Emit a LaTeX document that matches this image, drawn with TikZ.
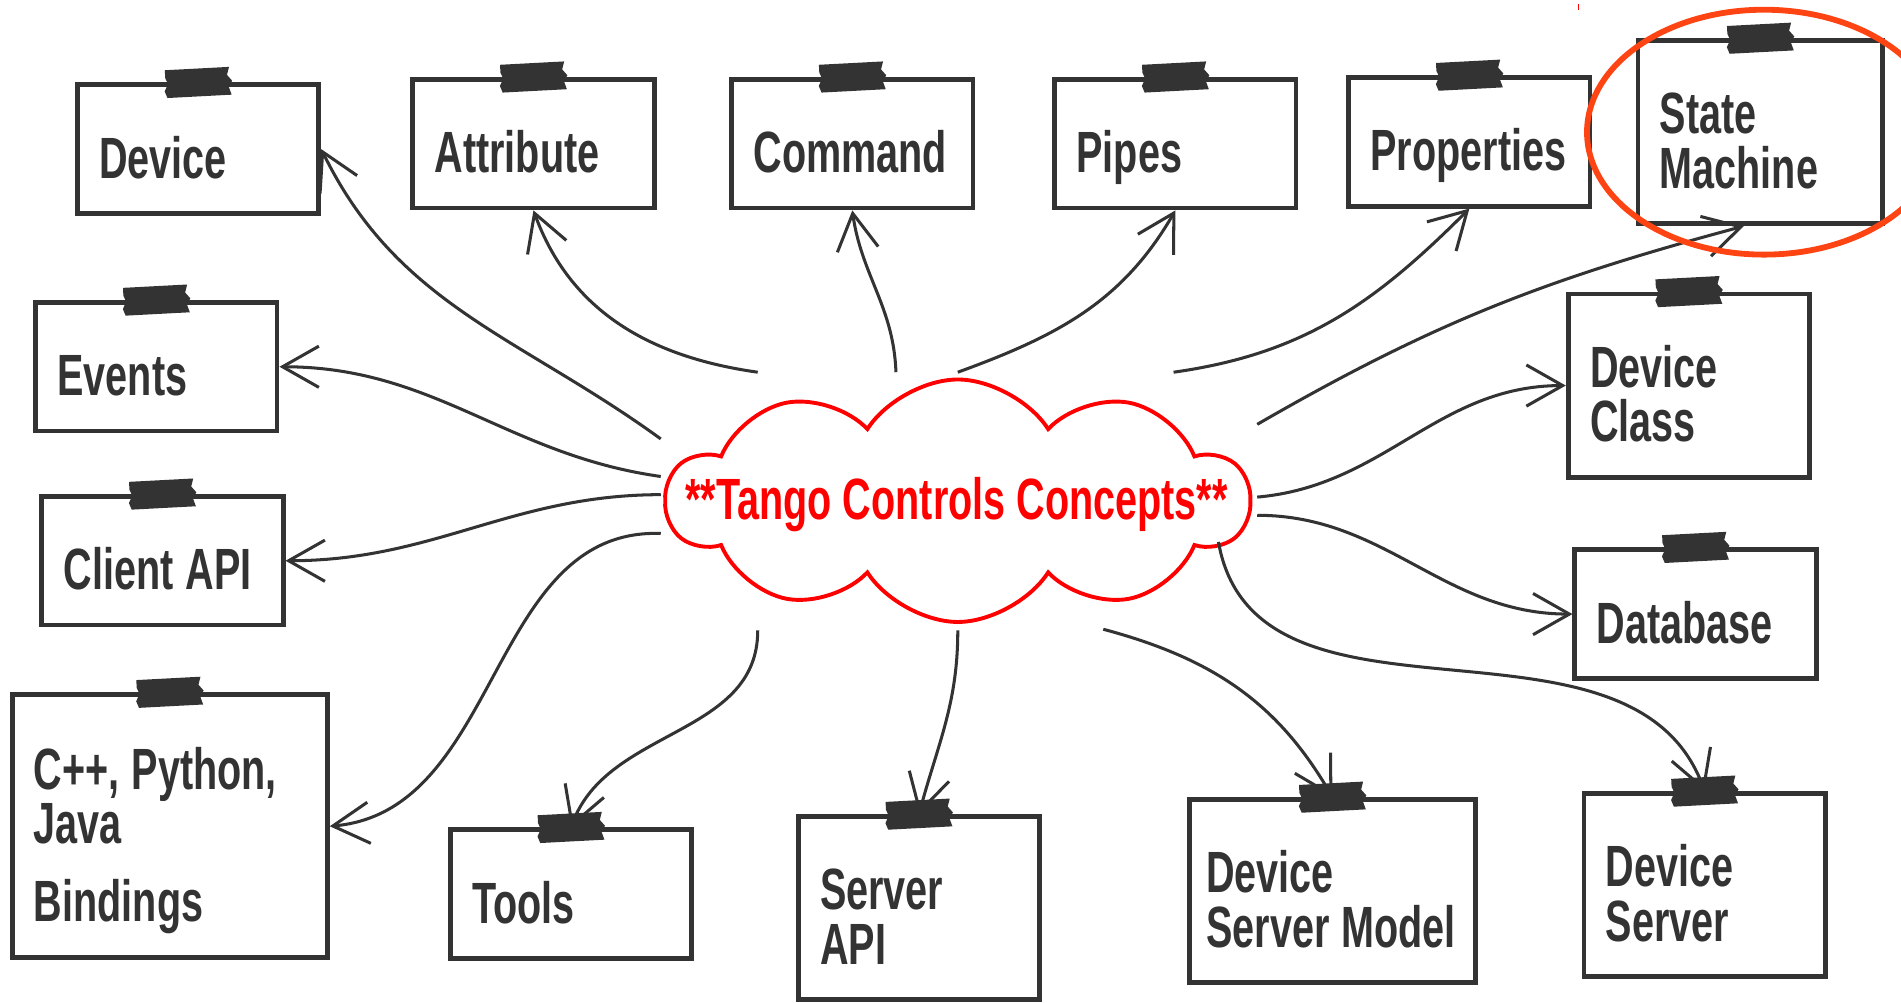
\documentclass[tikz,border=0pt]{standalone}
\usepackage{fontspec}
\setmainfont{Liberation Sans}[FakeStretch=0.68]
\usetikzlibrary{arrows.meta,shapes.symbols}
\definecolor{inkgray}{HTML}{333333}
\definecolor{ringred}{HTML}{FF4414}

\begin{document}
\begin{tikzpicture}[
        x={(0.5pt,0pt)},
        y={(0pt,-0.5pt)},
        concept/.style={draw=inkgray, line width=2pt, text=inkgray, fill=white,
            inner xsep=9pt, inner ysep=0pt, align=left,
            font=\bfseries\fontsize{24}{22.5}\selectfont,
            execute at begin node={\spaceskip=5pt\rule{0pt}{29pt}},
            execute at end node={\rule[-5pt]{0pt}{5pt}}},
        small/.style={concept, text width=81.5pt, minimum height=53pt},
        tall/.style={concept, text width=81.5pt, minimum height=75.5pt},
        link/.style={draw=inkgray, line width=1.25pt,
            -{Straight Barb[length=15pt,width=17pt]}},
        tape/.pic={
            \fill[inkgray, rotate=3] (-27,-11.5) -- (26,-11.5) -- (24,-5) -- (28,0) -- (25,5)
                -- (27,11.5) -- (-26,11.5) -- (-28,6) -- (-25,0) -- (-27,-5) -- cycle;
        }
    ]
    \useasboundingbox (0,0) rectangle (1568,827);

    % centre
    \node[cloud, cloud puffs=10, cloud puff arc=115, cloud ignores aspect,
          draw=red, line width=1.6pt, minimum width=240pt, minimum height=100pt,
          inner sep=0pt] (tango) at (790,413) {};
    \node[text=red, font=\bfseries\fontsize{24}{24}\selectfont] (title) at (789,416)
        {**Tango Controls Concepts**};

    % top row
    \node[small] (device) at (163.5,123) {Device};
    \node[small] (attribute) at (440,118.5) {Attribute};
    \node[small] (command) at (703,118.5) {Command};
    \node[small] (pipes) at (969.5,118.5) {Pipes};
    \node[small] (properties) at (1212,117) {Properties};
    \node[tall, text width=83pt] (state) at (1452,109) {State\\Machine};

    % left column
    \node[small] (events) at (129,302.5) {Events};
    \node[small] (client) at (134,462.5) {Client API};
    \node[concept, text width=112pt, minimum height=108.5pt] (bindings) at (140,681.5)
        {C++, Python,\\Java\\[9.5pt]Bindings};

    % bottom row
    \node[small] (tools) at (471,737.5) {Tools};
    \node[tall] (serverapi) at (758,749) {Server\\API};
    \node[tall, inner xsep=7pt, text width=104pt] (model) at (1099,735) {Device\\Server Model};
    \node[tall] (server) at (1406,730) {Device\\Server};

    % right column
    \node[tall] (class) at (1393,318) {Device\\Class};
    \node[small] (database) at (1398.5,506.5) {Database};

    \foreach \b in {device,attribute,command,pipes,properties,state,events,client,
                    bindings,tools,serverapi,model,server,class,database}
        \pic at (\b.north) {tape};

    % loose ends near the cloud
    \coordinate (s-device) at (545,362);
    \coordinate (s-attribute) at (625,307);
    \coordinate (s-command) at (739,307);
    \coordinate (s-pipes) at (790,307);
    \coordinate (s-properties) at (968,307);
    \coordinate (s-state) at (1037,350);
    \coordinate (s-class) at (1037,410);
    \coordinate (s-database) at (1037,425);
    \coordinate (s-server) at (1005,447);
    \coordinate (s-model) at (910,519);
    \coordinate (s-api) at (790,520);
    \coordinate (s-tools) at (625,520);
    \coordinate (s-bindings) at (545,440);
    \coordinate (s-client) at (545,408);
    \coordinate (s-events) at (545,393);

    \draw[link] (s-device) to[out=144, in=-64] (device.east);
    \draw[link] (s-attribute) to[out=172, in=-70] (attribute.south);
    \draw[link] (s-command) to[out=92, in=-82] (command.south);
    \draw[link] (s-pipes) to[out=20, in=-120] (pipes.south);
    \draw[link] (s-properties) to[out=8, in=-135] (properties.south);
    \draw[link] (s-state) to[out=30, in=195] (state.-100);
    \draw[link] (s-class) to[out=5, in=180] (class.west);
    \draw[link] (s-database) to[out=0, in=180] (database.west);
    \draw[link] (s-server) to[out=-80, in=110] (server.north);
    \draw[link] (s-model) to[out=-15, in=120] (model.north);
    \draw[link] (s-api) to[out=-90, in=75] (serverapi.north);
    \draw[link] (s-tools) to[out=-90, in=70] (tools.north);
    \draw[link] (s-bindings) to[out=178, in=5] (bindings.east);
    \draw[link] (s-client) to[out=180, in=0] (client.east);
    \draw[link] (s-events) to[out=172, in=0] (events.east);

    % highlight
    \draw[ringred, line width=2.4pt] (1455,109) ellipse[x radius=146, y radius=101];
    \draw[red, line width=0.5pt] (1302,3) -- (1302,8);
\end{tikzpicture}
\end{document}
